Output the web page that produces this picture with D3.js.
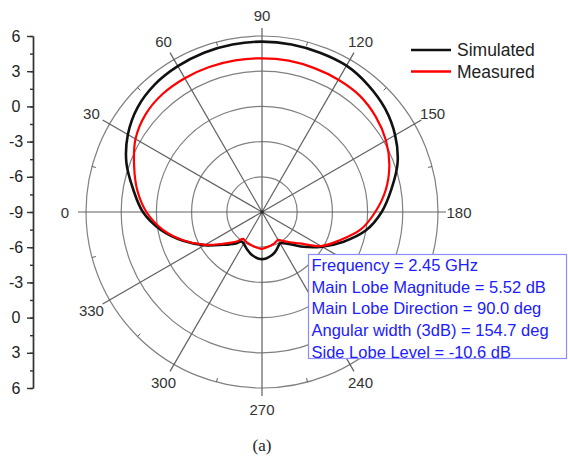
<!DOCTYPE html>
<html>
<head>
<meta charset="utf-8">
<script src="https://cdn.jsdelivr.net/npm/d3@7"></script>
<style>
  body { margin: 0; background: #fff; }
  text { font-family: "Liberation Sans", Arial, sans-serif; }
</style>
</head>
<body>
<div id="polar-chart"></div>
<script>
// angle (deg, 0 = left, 90 = top) and gain in dB
const angles = [0, 10, 20, 30, 40, 50, 60, 70, 80, 90, 100, 110, 120, 130, 140, 150, 160, 170, 180, 190, 200, 210,
  220, 225, 230, 235, 240, 245, 250, 255, 260, 265, 270, 275, 280, 285, 290, 295, 300, 305, 310, 315, 320,
  330, 340, 350];
const simulatedDb = [1.15, 2.15, 3.3, 4.2, 4.85, 5.2, 5.35, 5.45, 5.5, 5.52, 5.5, 5.45, 5.4, 5.1, 4.7, 4.1, 3.3, 2.2, 1.2, 0.0, -1.6, -3.1,
  -4.4, -5.0, -5.45, -5.75, -5.92, -5.75, -5.5, -5.3, -5.15, -5.03, -4.98, -5.03, -5.15, -5.3, -5.5, -5.7, -5.88, -5.93, -5.5, -5.1, -4.65,
  -3.35, -1.85, -0.25];
const measuredDb = [0.85, 1.8, 2.6, 3.45, 3.95, 4.15, 4.17, 4.15, 4.12, 4.1, 4.1, 4.05, 4.02, 3.95, 3.65, 3.2, 2.55, 1.7, 0.65, -0.45, -1.95, -3.2,
  -4.85, -5.3, -5.7, -6.0, -6.25, -6.2, -6.1, -6.05, -6.0, -5.93, -5.85, -5.9, -5.95, -6.0, -6.05, -6.1, -6.15, -6.2, -5.75, -5.3, -4.8,
  -3.4, -1.9, -0.4];

const seriesNames = ['Simulated', 'Measured'];
const seriesColors = ['#111111', '#ff0000'];
const angleLabels = [0, 30, 60, 90, 120, 150, 180, 210, 240, 270, 300, 330];
const radialTicks = [-6, -3, 0, 3, 6];
const axisTickLabels = [6, 3, 0, -3, -6, -9, -6, -3, 0, 3, 6];
const infoLines = [
  'Frequency = 2.45 GHz',
  'Main Lobe Magnitude = 5.52 dB',
  'Main Lobe Direction = 90.0 deg',
  'Angular width (3dB) = 154.7 deg',
  'Side Lobe Level = -10.6 dB'
];

const width = 568;
const height = 469;
const cx = 262;
const cy = 212;
const outerR = 176;

const svg = d3.select('#polar-chart')
  .append('svg')
    .attr('viewBox', [0, 0, width, height])
    .attr('width', width)
    .attr('height', height);

const rScale = d3.scaleLinear()
  .domain([-9, 6])
  .range([0, outerR]);

const rad = deg => deg * Math.PI / 180;
const pt = (deg, r) => [cx - r * Math.cos(rad(deg)), cy - r * Math.sin(rad(deg))];

// left axis, mirrored about the centre
const yScale = d3.scaleLinear()
  .domain([0, axisTickLabels.length - 1])
  .range([cy - outerR, cy + outerR]);

svg.append('g')
    .attr('transform', 'translate(33, 0)')
    .call(d3.axisLeft(yScale)
      .tickValues(d3.range(0, axisTickLabels.length - 0.5, 0.5))
      .tickSize(3)
      .tickSizeOuter(0)
      .tickFormat(''))
    .call(g => g.selectAll('line, path').attr('stroke', '#333').attr('stroke-width', 1.4));

const yAxis = svg.append('g')
    .attr('transform', 'translate(33, 0)')
    .call(d3.axisLeft(yScale)
      .tickValues(d3.range(axisTickLabels.length))
      .tickSize(6)
      .tickSizeOuter(0)
      .tickFormat((d, i) => axisTickLabels[i]));

yAxis.select('.domain').attr('stroke', '#333').attr('stroke-width', 1.4);
yAxis.selectAll('line').attr('stroke', '#333').attr('stroke-width', 1.4);
yAxis.selectAll('text')
    .attr('text-anchor', 'middle')
    .attr('x', -17)
    .attr('fill', '#222')
    .style('font-size', '16px')
    .style('font-family', '"Liberation Sans", Arial, sans-serif');

// grid
const grid = svg.append('g').attr('class', 'grid');

grid.selectAll('circle')
  .data(radialTicks)
  .join('circle')
    .attr('cx', cx)
    .attr('cy', cy)
    .attr('r', d => rScale(d))
    .attr('fill', 'none')
    .attr('stroke', '#808080')
    .attr('stroke-width', 1.2);

grid.selectAll('line.spoke')
  .data(angleLabels)
  .join('line')
    .attr('class', 'spoke')
    .attr('x1', cx)
    .attr('y1', cy)
    .attr('x2', d => pt(d, outerR + 8)[0])
    .attr('y2', d => pt(d, outerR + 8)[1])
    .attr('stroke', '#606060')
    .attr('stroke-width', 1.2);

grid.selectAll('line.minor')
  .data(angleLabels.map(d => d + 15))
  .join('line')
    .attr('class', 'minor')
    .attr('x1', d => pt(d, outerR - 4)[0])
    .attr('y1', d => pt(d, outerR - 4)[1])
    .attr('x2', d => pt(d, outerR)[0])
    .attr('y2', d => pt(d, outerR)[1])
    .attr('stroke', '#606060')
    .attr('stroke-width', 1);

grid.append('circle')
    .attr('cx', cx)
    .attr('cy', cy)
    .attr('r', 2)
    .attr('fill', '#333');

// the 210 label sits under the info box in the original, so it is not shown
svg.append('g')
  .selectAll('text')
  .data(angleLabels.filter(d => d !== 210))
  .join('text')
    .attr('x', d => pt(d, 197)[0])
    .attr('y', d => pt(d, 197)[1])
    .attr('text-anchor', 'middle')
    .attr('dominant-baseline', 'central')
    .attr('fill', '#333')
    .style('font-size', '15px')
    .text(d => d);

// curves
const series = [simulatedDb, measuredDb].map(vals => angles.map((a, i) => [a, vals[i]]));

const radialLine = d3.lineRadial()
  .angle(d => rad(d[0] - 90))
  .radius(d => rScale(d[1]))
  .curve(d3.curveCatmullRomClosed.alpha(0.5));

svg.append('g')
    .attr('transform', `translate(${cx}, ${cy})`)
  .selectAll('path')
  .data(series)
  .join('path')
    .attr('d', radialLine)
    .attr('fill', 'none')
    .attr('stroke', (d, i) => seriesColors[i])
    .attr('stroke-width', (d, i) => i === 0 ? 2.6 : 2.2)
    .attr('stroke-linejoin', 'round');

// legend
const legend = svg.append('g')
  .selectAll('g')
  .data(seriesNames)
  .join('g')
    .attr('transform', (d, i) => `translate(411, ${50 + i * 21.5})`);

legend.append('line')
    .attr('x1', 0)
    .attr('x2', 40)
    .attr('stroke', (d, i) => seriesColors[i])
    .attr('stroke-width', 2.6);

legend.append('text')
    .attr('x', 46)
    .attr('dominant-baseline', 'central')
    .attr('fill', '#222')
    .style('font-size', '17.5px')
    .text(d => d);

// info box
const info = svg.append('g');

info.append('rect')
    .attr('x', 308.5)
    .attr('y', 254.5)
    .attr('width', 258)
    .attr('height', 104)
    .attr('fill', '#fff')
    .attr('stroke', '#8c8cff')
    .attr('stroke-width', 1.2);

info.selectAll('text')
  .data(infoLines)
  .join('text')
    .attr('x', 311.5)
    .attr('y', (d, i) => 271 + i * 21.7)
    .attr('fill', '#2020ff')
    .style('font-size', '16.5px')
    .text(d => d);

svg.append('text')
    .attr('x', cx)
    .attr('y', 451)
    .attr('text-anchor', 'middle')
    .attr('fill', '#222')
    .style('font-family', '"Liberation Serif", "Times New Roman", serif')
    .style('font-size', '17px')
    .text('(a)');
</script>
</body>
</html>
